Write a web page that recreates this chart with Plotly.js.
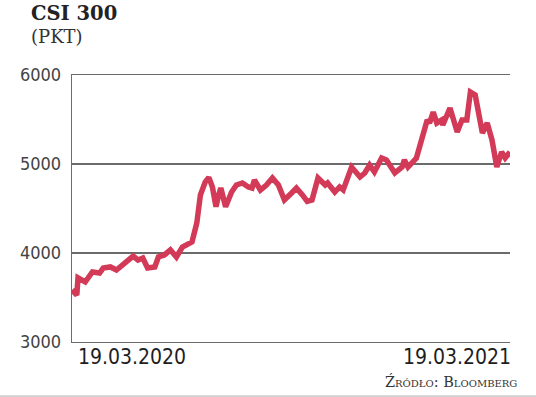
<!DOCTYPE html>
<html>
<head>
<meta charset="utf-8">
<script src="https://cdn.plot.ly/plotly-3.0.1.min.js"></script>
<style>
html,body{margin:0;padding:0;background:#fff;}
#chart{width:536px;height:397px;}
</style>
</head>
<body>
<div id="chart"></div>
<script>
var dates = [
"2020-03-19","2020-03-23","2020-03-24","2020-03-30","2020-04-05","2020-04-11","2020-04-14","2020-04-20","2020-04-25",
"2020-05-04","2020-05-09","2020-05-13","2020-05-17","2020-05-21","2020-05-27","2020-05-30","2020-06-04","2020-06-09",
"2020-06-14","2020-06-19","2020-06-27","2020-07-01","2020-07-04","2020-07-08","2020-07-11","2020-07-14","2020-07-17",
"2020-07-19","2020-07-21","2020-07-25","2020-07-30","2020-08-03","2020-08-08","2020-08-13","2020-08-16","2020-08-18",
"2020-08-23","2020-08-28","2020-09-02","2020-09-07","2020-09-12","2020-09-18","2020-09-22","2020-09-27","2020-10-01",
"2020-10-05","2020-10-10","2020-10-16","2020-10-18","2020-10-24","2020-10-28","2020-10-31","2020-11-07","2020-11-14",
"2020-11-18","2020-11-22","2020-11-26","2020-12-02","2020-12-06","2020-12-13","2020-12-19","2020-12-21","2020-12-24",
"2020-12-31","2021-01-09","2021-01-11","2021-01-14","2021-01-17","2021-01-21","2021-01-22","2021-01-28","2021-02-03",
"2021-02-07","2021-02-11","2021-02-14","2021-02-18","2021-02-22","2021-02-24","2021-02-28","2021-03-04","2021-03-08",
"2021-03-12","2021-03-15","2021-03-19"
];
var values = [
3584,3528,3720,3674,3787,3775,3831,3843,3809,
3921,3966,3921,3944,3831,3843,3955,3978,4034,
3955,4067,4124,4337,4652,4798,4850,4742,4520,
4640,4730,4520,4685,4764,4787,4742,4730,4820,
4708,4764,4843,4764,4596,4674,4730,4652,4580,
4596,4843,4764,4787,4685,4742,4708,4966,4854,
4899,4989,4910,5067,5045,4899,4966,5045,4966,
5067,5494,5461,5584,5461,5494,5438,5629,5360,
5494,5494,5809,5775,5461,5348,5461,5270,4966,
5135,5067,5135
];
var yTicks = [3000, 4000, 5000, 6000];
var dateLabels = ["19.03.2020", "19.03.2021"];
var xStart = "2020-03-19", xEnd = "2021-03-19";
var title = "CSI 300", unit = "(PKT)", source = "Źródło: Bloomberg";

var NARROW = "Liberation Sans Narrow, DejaVu Sans Condensed, sans-serif";
var SERIF = "DejaVu Serif, serif";

var trace = {
  x: dates, y: values, type: "scatter", mode: "lines",
  line: {color: "#d23a58", width: 5.5, shape: "linear"},
  hoverinfo: "skip"
};

var layout = {
  width: 536, height: 397,
  margin: {l: 72, r: 26, t: 75, b: 55},
  paper_bgcolor: "#fff", plot_bgcolor: "#fff",
  showlegend: false,
  xaxis: {
    type: "date", range: [xStart, xEnd],
    showgrid: false, zeroline: false, showticklabels: false, ticks: "",
    showline: true, mirror: true, linecolor: "#6b6b6b", linewidth: 1.3,
    fixedrange: true
  },
  yaxis: {
    range: [3000, 6000], tickvals: yTicks, ticktext: yTicks.map(String),
    showgrid: true, gridcolor: "#6b6b6b", gridwidth: 1.3,
    showline: true, linecolor: "#6b6b6b", linewidth: 1.3,
    zeroline: false, ticks: "", ticklabelstandoff: 6,
    tickfont: {family: NARROW, size: 18, color: "#444"},
    fixedrange: true
  },
  shapes: [
    {type: "line", xref: "paper", yref: "paper", x0: -0.2, x1: 1.1, y0: -0.2035, y1: -0.2035,
     line: {color: "#cfcfcf", width: 2}}
  ],
  annotations: [
    {xref: "paper", yref: "paper", x: -0.098, y: 1.281, xanchor: "left", yanchor: "top",
     text: "<b>" + title + "</b>", showarrow: false,
     font: {family: SERIF, size: 19.5, color: "#222"}},
    {xref: "paper", yref: "paper", x: -0.098, y: 1.19, xanchor: "left", yanchor: "top",
     text: unit, showarrow: false,
     font: {family: SERIF, size: 18, color: "#333"}},
    {xref: "x", yref: "paper", x: xStart, y: -0.004, xanchor: "left", yanchor: "top", xshift: 4,
     text: dateLabels[0], showarrow: false,
     font: {family: NARROW, size: 21, color: "#1e1e1e"}},
    {xref: "x", yref: "paper", x: xEnd, y: -0.004, xanchor: "right", yanchor: "top", xshift: 3,
     text: dateLabels[1], showarrow: false,
     font: {family: NARROW, size: 21, color: "#1e1e1e"}},
    {xref: "paper", yref: "paper", x: 1.021, y: -0.1086, xanchor: "right", yanchor: "top",
     text: source, showarrow: false,
     font: {family: SERIF, size: 14.5, color: "#333", variant: "small-caps"}}
  ]
};

Plotly.newPlot("chart", [trace], layout, {staticPlot: true, displayModeBar: false});
</script>
</body>
</html>
